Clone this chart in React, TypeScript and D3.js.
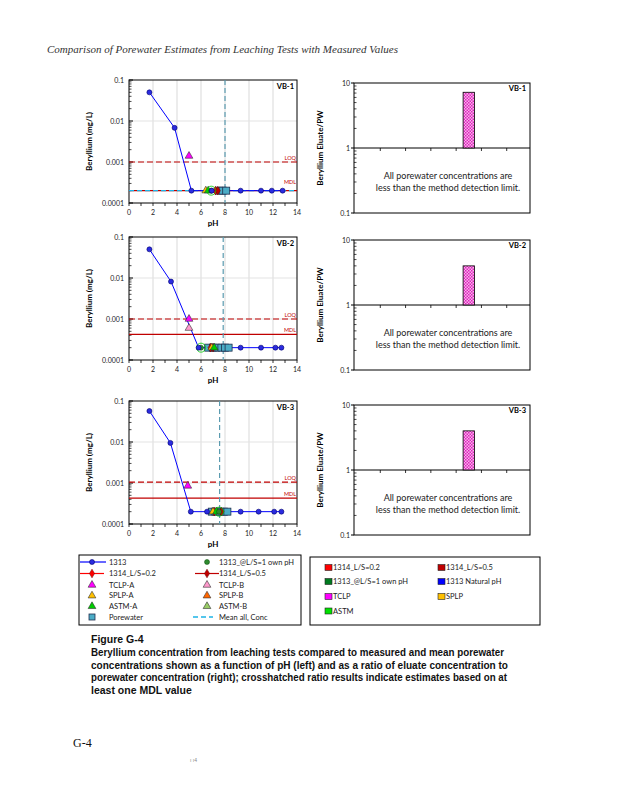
import React from 'react';
import * as d3 from 'd3';

// ---------- data ----------
const panelNames = ['VB-1', 'VB-2', 'VB-3'];
const xTicks = [0, 2, 4, 6, 8, 10, 12, 14];
const yTicksLeft = [0.1, 0.01, 0.001, 0.0001];
const yTickLabelsLeft = ['0.1', '0.01', '0.001', '0.0001'];
const yTicksRight = [10, 1, 0.1];
const yTickLabelsRight = ['10', '1', '0.1'];

// 1313 series (pH, mg/L)
const ph1313_1 = [1.7, 3.8, 5.2, 6.9, 9.3, 11.0, 11.9, 12.8];
const be1313_1 = [0.05, 0.0068, 0.0002, 0.0002, 0.0002, 0.0002, 0.0002, 0.0002];
const ph1313_2 = [1.7, 3.5, 5.8, 9.3, 11.0, 12.2, 12.7];
const be1313_2 = [0.05, 0.0082, 0.0002, 0.0002, 0.0002, 0.0002, 0.0002];
const ph1313_3 = [1.7, 3.45, 5.15, 6.5, 9.3, 10.8, 12.1, 12.7];
const be1313_3 = [0.057, 0.0095, 0.0002, 0.0002, 0.0002, 0.0002, 0.0002, 0.0002];

// other single-point tests: [pH, mg/L]
const tclpA = [[5.0, 0.0014], [5.0, 0.001], [4.9, 0.00085]];
const tclpB = [null, [5.0, 0.0006], null];
const splpA = [[6.4, 0.0002], [6.9, 0.0002], [7.0, 0.0002]];
const astmA = [[6.6, 0.0002], [7.1, 0.0002], [7.3, 0.0002]];
const ownPH = [[6.85, 0.0002], [6.0, 0.0002], [7.5, 0.0002]];
const l02 = [[7.2, 0.0002], [6.8, 0.0002], [7.1, 0.0002]];
const l05 = [[7.4, 0.0002], [7.0, 0.0002], [7.7, 0.0002]];

// porewater
const pwPH_1 = [7.5, 7.8, 8.1];
const pwPH_2 = [6.6, 7.0, 7.3, 7.7, 8.0, 8.3];
const pwPH_3 = [6.9, 7.2, 7.6, 7.9, 8.2];
const pwConc = [0.0002, 0.0002, 0.0002];
const meanPH = [8.0, 7.85, 7.55];
const meanConc = [0.0002, null, null];
const loq = [0.001, 0.001, 0.00105];
const mdl = [0.0002, 0.00042, 0.00043];

// ratio (eluate / porewater)
const ratioCats = ['1314_L/S=0.2', '1314_L/S=0.5', '1313_@L/S=1 own pH', '1313 Natural pH', 'TCLP', 'SPLP', 'ASTM'];
const ratioTCLP = [7.2, 4.0, 4.0];

// legend
const leftLegend = [
  ['1313', '1313_@L/S=1 own pH'],
  ['1314_L/S=0.2', '1314_L/S=0.5'],
  ['TCLP-A', 'TCLP-B'],
  ['SPLP-A', 'SPLP-B'],
  ['ASTM-A', 'ASTM-B'],
  ['Porewater', 'Mean all, Conc'],
];
const rightLegend = [
  ['1314_L/S=0.2', '#FF0000', '1314_L/S=0.5', '#C00000'],
  ['1313_@L/S=1 own pH', '#007A1F', '1313 Natural pH', '#0000FF'],
  ['TCLP', '#FF00FF', 'SPLP', '#FFC000'],
  ['ASTM', '#00E000', null, null],
];
const captionLines = [
  'Beryllium concentration from leaching tests compared to measured and mean porewater',
  'concentrations shown as a function of pH (left) and as a ratio of eluate concentration to',
  'porewater concentration (right); crosshatched ratio results indicate estimates based on at',
  'least one MDL value',
];

// ---------- layout ----------
const LX0 = 129, LX1 = 297, LH = 123;
const leftTops = [80, 237, 401];
const RX0 = 354, RX1 = 530, RH = 130;
const rightTops = [83, 240, 405];
const FONT = 'Lato, "Open Sans", sans-serif';

const panels = panelNames.map((name, i) => ({
  name,
  ph: [ph1313_1, ph1313_2, ph1313_3][i],
  be: [be1313_1, be1313_2, be1313_3][i],
  pw: [pwPH_1, pwPH_2, pwPH_3][i],
  i,
}));

const COL = {
  blue: '#0000FF',
  ptFill: '#2B2BE0',
  ptStroke: '#00006B',
  tclpA: '#FF00FF',
  tclpB: '#FF99CC',
  splpA: '#FFC000',
  splpB: '#FF6600',
  astmA: '#00CC00',
  astmB: '#99CC66',
  own: '#2E8B2E',
  red: '#FF0000',
  dred: '#C00000',
  pw: '#4BACC6',
  mean: '#1EB4E6',
  vline: '#5B9BB0',
};

const sym = (type: any, size: number) => d3.symbol().type(type).size(size)() as string;

function Tri({ x, y, fill }: any) {
  return <path d={sym(d3.symbolTriangle, 26)} transform={`translate(${x},${y})`} fill={fill} stroke="#333" strokeWidth={0.6} />;
}
function Dia({ x, y, fill }: any) {
  return <path d={sym(d3.symbolDiamond, 22)} transform={`translate(${x},${y})`} fill={fill} stroke="#600" strokeWidth={0.5} />;
}

function LeftPanel({ p }: any) {
  const i = p.i;
  const top = leftTops[i];
  const x = d3.scaleLinear().domain([0, 14]).range([LX0, LX1]);
  const y = d3.scaleLog().domain([0.0001, 0.1]).range([top + LH, top]);
  const minor: number[] = [];
  [0.0001, 0.001, 0.01].forEach((d) => { for (let k = 2; k <= 9; k++) minor.push(d * k); });
  const line = d3.line<number>().x((d, j) => x(p.ph[j])).y((d) => y(d));
  const oneTicks = d3.range(0, 15);
  const pt = (a: any) => (a ? { x: x(a[0]), y: y(a[1]) } : null);
  const ta = pt(tclpA[i]), tb = pt(tclpB[i]), sa = pt(splpA[i]), aa = pt(astmA[i]), ow = pt(ownPH[i]), d2 = pt(l02[i]), d5 = pt(l05[i]);
  return (
    <g fontFamily={FONT}>
      {/* grid */}
      {xTicks.slice(1, -1).map((t) => (
        <line key={'gx' + t} x1={x(t)} x2={x(t)} y1={top} y2={top + LH} stroke="#D9D9D9" strokeWidth={1} />
      ))}
      {[0.01, 0.001].map((t) => (
        <line key={'gy' + t} x1={LX0} x2={LX1} y1={y(t)} y2={y(t)} stroke="#E3E3E3" strokeWidth={1} />
      ))}
      <rect x={LX0} y={top} width={LX1 - LX0} height={LH} fill="none" stroke="#000" strokeWidth={1} />
      {/* y ticks */}
      {yTicksLeft.map((t, k) => (
        <g key={'yt' + t}>
          <line x1={LX0} x2={LX0 + 4} y1={y(t)} y2={y(t)} stroke="#000" />
          <text x={LX0 - 5} y={y(t) + 2.5} fontSize={7} textAnchor="end" fill="#222">{yTickLabelsLeft[k]}</text>
        </g>
      ))}
      {minor.map((t) => (
        <line key={'ym' + t} x1={LX0} x2={LX0 + 2.5} y1={y(t)} y2={y(t)} stroke="#000" strokeWidth={0.7} />
      ))}
      {/* x ticks */}
      {oneTicks.map((t) => (
        <line key={'xt' + t} x1={x(t)} x2={x(t)} y1={top + LH} y2={top + LH + 3} stroke="#000" strokeWidth={0.8} />
      ))}
      {xTicks.map((t) => (
        <text key={'xl' + t} x={x(t)} y={top + LH + 12} fontSize={7} textAnchor="middle" fill="#222">{t}</text>
      ))}
      <text x={(LX0 + LX1) / 2} y={top + LH + 23} fontSize={8} fontWeight="bold" textAnchor="middle">pH</text>
      <text transform={`translate(${92},${top + LH / 2}) rotate(-90)`} fontSize={8} fontWeight="bold" textAnchor="middle">Beryllium (mg/L)</text>
      <text x={LX1 - 3} y={top + 9} fontSize={7.5} fontWeight="bold" textAnchor="end">{p.name}</text>
      {/* LOQ & MDL */}
      <line x1={LX0} x2={LX1} y1={y(loq[i])} y2={y(loq[i])} stroke={COL.dred} strokeWidth={1.2} strokeDasharray="6,3" />
      <text x={LX1 - 1} y={y(loq[i]) - 2} fontSize={5.5} fill={COL.dred} textAnchor="end">LOQ</text>
      <line x1={LX0} x2={LX1} y1={y(mdl[i])} y2={y(mdl[i])} stroke={COL.dred} strokeWidth={1.2} />
      <text x={LX1 - 1} y={y(mdl[i]) - (i === 0 ? 7 : 2)} fontSize={5.5} fill={COL.dred} textAnchor="end">MDL</text>
      {meanConc[i] !== null && (
        <line x1={LX0} x2={LX1} y1={y(meanConc[i] as number)} y2={y(meanConc[i] as number)} stroke={COL.mean} strokeWidth={1.2} strokeDasharray="5,3" />
      )}
      <line x1={x(meanPH[i])} x2={x(meanPH[i])} y1={top} y2={top + LH} stroke={COL.vline} strokeWidth={1.2} strokeDasharray="5,3" />
      {/* 1313 */}
      <path d={line(p.be) as string} fill="none" stroke={COL.blue} strokeWidth={1} />
      {/* porewater */}
      {p.pw.map((ph: number, k: number) => (
        <rect key={'pw' + k} x={x(ph) - 3.5} y={y(pwConc[i]) - 3.5} width={7} height={7} fill={COL.pw} stroke="#1F2F4F" strokeWidth={0.8} />
      ))}
      {d2 && <Dia x={d2.x} y={d2.y} fill={COL.red} />}
      {d5 && <Dia x={d5.x} y={d5.y} fill={COL.dred} />}
      {sa && <Tri x={sa.x} y={sa.y} fill={COL.splpA} />}
      {aa && <Tri x={aa.x} y={aa.y} fill={COL.astmA} />}
      {ow && (
        <g>
          <circle cx={ow.x} cy={ow.y} r={2.5} fill={COL.own} stroke="#0A4A0A" strokeWidth={0.5} />
          <circle cx={ow.x} cy={ow.y} r={4.5} fill="none" stroke={COL.astmA} strokeWidth={0.8} />
        </g>
      )}
      {p.be.map((v: number, k: number) => (
        <circle key={'p' + k} cx={x(p.ph[k])} cy={y(v)} r={2.5} fill={COL.ptFill} stroke={COL.ptStroke} strokeWidth={0.6} />
      ))}
      {ta && <Tri x={ta.x} y={ta.y} fill={COL.tclpA} />}
      {tb && <Tri x={tb.x} y={tb.y} fill={COL.tclpB} />}
    </g>
  );
}

function RightPanel({ p }: any) {
  const i = p.i;
  const top = rightTops[i];
  const y = d3.scaleLog().domain([0.1, 10]).range([top + RH, top]);
  const xb = d3.scaleBand<string>().domain(ratioCats).range([RX0 + 1, RX1 + 2]);
  const minor: number[] = [];
  [0.1, 1].forEach((d) => { for (let k = 2; k <= 9; k++) minor.push(d * k); });
  const bw = xb.bandwidth() * 0.45;
  const bx = (xb('TCLP') as number) + (xb.bandwidth() - bw) / 2;
  return (
    <g fontFamily={FONT}>
      <rect x={RX0} y={top} width={RX1 - RX0} height={RH} fill="none" stroke="#000" strokeWidth={1} />
      <line x1={RX0} x2={RX1} y1={y(1)} y2={y(1)} stroke="#000" strokeWidth={1} />
      {ratioCats.slice(1).map((c) => (
        <line key={c} x1={xb(c)} x2={xb(c)} y1={y(1)} y2={y(1) + 3} stroke="#000" strokeWidth={0.8} />
      ))}
      {yTicksRight.map((t, k) => (
        <g key={'r' + t}>
          <line x1={RX0} x2={RX0 - 3} y1={y(t)} y2={y(t)} stroke="#000" />
          <text x={RX0 - 4} y={y(t) + 2.5} fontSize={7} textAnchor="end" fill="#222">{yTickLabelsRight[k]}</text>
        </g>
      ))}
      {minor.map((t) => (
        <line key={'m' + t} x1={RX0} x2={RX0 + 2.5} y1={y(t)} y2={y(t)} stroke="#000" strokeWidth={0.7} />
      ))}
      <text transform={`translate(${323},${top + RH / 2}) rotate(-90)`} fontSize={8} fontWeight="bold" textAnchor="middle">Beryllium Eluate/PW</text>
      <text x={RX1 - 4} y={top + 8} fontSize={7.5} fontWeight="bold" textAnchor="end">{p.name}</text>
      <rect x={bx} y={y(ratioTCLP[i])} width={bw} height={y(1) - y(ratioTCLP[i])} fill="url(#hatch)" stroke="#000" strokeWidth={0.8} />
      <text x={448} y={y(1) + 31} fontSize={9} textAnchor="middle" fill="#222">All porewater concentrations are</text>
      <text x={448} y={y(1) + 43} fontSize={9} textAnchor="middle" fill="#222">less than the method detection limit.</text>
    </g>
  );
}

function LeftLegend() {
  const rowsY = [562, 573.5, 585, 595.7, 606.3, 617];
  const c1 = 92, c2 = 207, t1 = 109, t2 = 219;
  const marks = (row: number, col: number, cx: number, cy: number) => {
    if (row === 0 && col === 0)
      return (<g><line x1={80} x2={106} y1={cy} y2={cy} stroke={COL.blue} strokeWidth={1.2} /><circle cx={cx} cy={cy} r={2.5} fill={COL.ptFill} stroke={COL.ptStroke} strokeWidth={0.6} /></g>);
    if (row === 0 && col === 1) return <circle cx={cx} cy={cy} r={2.5} fill={COL.own} stroke="#0A4A0A" strokeWidth={0.5} />;
    if (row === 1)
      return (<g><line x1={cx - 12} x2={cx + 12} y1={cy} y2={cy} stroke={col === 0 ? COL.red : COL.dred} strokeWidth={1.2} /><Dia x={cx} y={cy} fill={col === 0 ? COL.red : COL.dred} /></g>);
    if (row === 2) return <Tri x={cx} y={cy} fill={col === 0 ? COL.tclpA : COL.tclpB} />;
    if (row === 3) return <Tri x={cx} y={cy} fill={col === 0 ? COL.splpA : COL.splpB} />;
    if (row === 4) return <Tri x={cx} y={cy} fill={col === 0 ? COL.astmA : COL.astmB} />;
    if (row === 5 && col === 0) return <rect x={cx - 3} y={cy - 3} width={6} height={6} fill={COL.pw} stroke="#1F2F4F" strokeWidth={0.8} />;
    return <line x1={cx - 14} x2={cx + 6} y1={cy} y2={cy} stroke={COL.mean} strokeWidth={1.5} strokeDasharray="5,3" />;
  };
  return (
    <g fontFamily={FONT}>
      <rect x={79} y={555} width={222} height={70} fill="none" stroke="#000" strokeWidth={1} />
      {leftLegend.map((r, k) => (
        <g key={k}>
          {marks(k, 0, c1, rowsY[k])}
          {marks(k, 1, c2, rowsY[k])}
          <text x={t1} y={rowsY[k] + 2.7} fontSize={7.5} fill="#222">{r[0]}</text>
          <text x={t2} y={rowsY[k] + 2.7} fontSize={7.5} fill="#222">{r[1]}</text>
        </g>
      ))}
    </g>
  );
}

function RightLegend() {
  const rowsY = [567.5, 581.5, 596.5, 611];
  return (
    <g fontFamily={FONT}>
      <rect x={310} y={557} width={230} height={68} fill="none" stroke="#000" strokeWidth={1} />
      {rightLegend.map((r, k) => (
        <g key={k}>
          <rect x={325} y={rowsY[k] - 3} width={7} height={6} fill={r[1] as string} stroke="#222" strokeWidth={0.6} />
          <text x={333} y={rowsY[k] + 2.7} fontSize={7.5} fill="#222">{r[0]}</text>
          {r[2] && (
            <g>
              <rect x={438} y={rowsY[k] - 3} width={7} height={6} fill={r[3] as string} stroke="#222" strokeWidth={0.6} />
              <text x={446} y={rowsY[k] + 2.7} fontSize={7.5} fill="#222">{r[2]}</text>
            </g>
          )}
        </g>
      ))}
    </g>
  );
}

export default function App() {
  return (
    <svg width={618} height={800} style={{ position: 'absolute', left: 0, top: 0, background: '#fff' }}>
      <defs>
        <pattern id="hatch" width={3} height={3} patternUnits="userSpaceOnUse">
          <rect width={3} height={3} fill="#F7B8E8" />
          <rect width={1.5} height={1.5} fill="#E020C0" />
          <rect x={1.5} y={1.5} width={1.5} height={1.5} fill="#E020C0" />
        </pattern>
      </defs>
      <rect width={618} height={800} fill="#fff" />
      <text x={47} y={53} fontFamily='"Liberation Serif", serif' fontStyle="italic" fontSize={10.5} fill="#333" textLength={351} lengthAdjust="spacingAndGlyphs">
        Comparison of Porewater Estimates from Leaching Tests with Measured Values
      </text>
      {panels.map((p) => (
        <g key={p.name}>
          <LeftPanel p={p} />
          <RightPanel p={p} />
        </g>
      ))}
      <LeftLegend />
      <RightLegend />
      <g fontFamily='"Liberation Sans", Arial, sans-serif' fontWeight="bold" fontSize={10.5} fill="#111">
        <text x={91} y={643}>Figure G-4</text>
        {captionLines.map((t, k) => (
          <text key={k} x={91} y={656 + k * 12.6} {...(k < 3 ? { textLength: k === 0 ? 413 : k === 1 ? 417 : 416, lengthAdjust: 'spacingAndGlyphs' } : {})}>{t}</text>
        ))}
      </g>
      <text x={73} y={747} fontFamily='"Liberation Serif", serif' fontSize={12} fill="#111">G-4</text>
      <text x={190} y={762} fontFamily='"Liberation Sans", sans-serif' fontSize={5} fill="#888">ı  ı4</text>
    </svg>
  );
}
